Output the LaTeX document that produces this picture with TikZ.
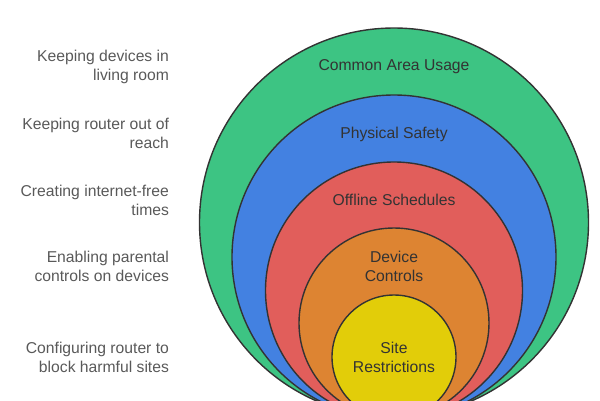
\documentclass[tikz,border=0pt]{standalone}
\usepackage{fontspec}
\setmainfont{Liberation Sans}
\usetikzlibrary{positioning}

\definecolor{usagegreen}{RGB}{61,196,131}
\definecolor{safetyblue}{RGB}{67,129,225}
\definecolor{offlinered}{RGB}{225,94,91}
\definecolor{deviceorange}{RGB}{221,132,50}
\definecolor{siteyellow}{RGB}{226,205,9}
\definecolor{ringline}{RGB}{51,51,51}

\begin{document}
\begin{tikzpicture}[x=1pt,y=-1pt,align=center]
\tikzstyle{ring}=[circle,draw=ringline,line width=1.4pt,inner sep=0pt]
\tikzstyle{ringtext}=[text=ringline,font=\fontsize{15.7}{19}\selectfont]
\tikzstyle{sidetext}=[anchor=east,align=right,text=black!65,font=\fontsize{15.7}{19}\selectfont]

\clip (0,0) rectangle (600,400);

\node[ring, fill=usagegreen, minimum size=389pt] (usage) at (394,222.5) {};
\node[ring, fill=safetyblue, minimum size=324pt] (safety) at (394,257) {};
\node[ring, fill=offlinered, minimum size=257pt] (offline) at (394,290.5) {};
\node[ring, fill=deviceorange, minimum size=190pt] (device) at (394,323) {};
\node[ring, fill=siteyellow, minimum size=124pt] (site) at (394,357) {};

\node[ringtext] (usagetext) [below = 29pt of usage.north] {Common Area Usage};
\node[ringtext] (safetytext) [below = 29pt of safety.north] {Physical Safety};
\node[ringtext] (offlinetext) [below = 29pt of offline.north] {Offline Schedules};
\node[ringtext] (devicetext) at (394,266) {Device\\Controls};
\node[ringtext] (sitetext) at (site.center) {Site\\Restrictions};

\node[sidetext] (usageside) at (172.5,66.5) {Keeping devices in\\living room};
\node[sidetext] (safetyside) at (172.5,133) {Keeping router out of\\reach};
\node[sidetext] (offlineside) at (172.5,200) {Creating internet-free\\times};
\node[sidetext] (deviceside) at (172.5,266) {Enabling parental\\controls on devices};
\node[sidetext] (siteside) at (172.5,357) {Configuring router to\\block harmful sites};
\end{tikzpicture}
\end{document}
